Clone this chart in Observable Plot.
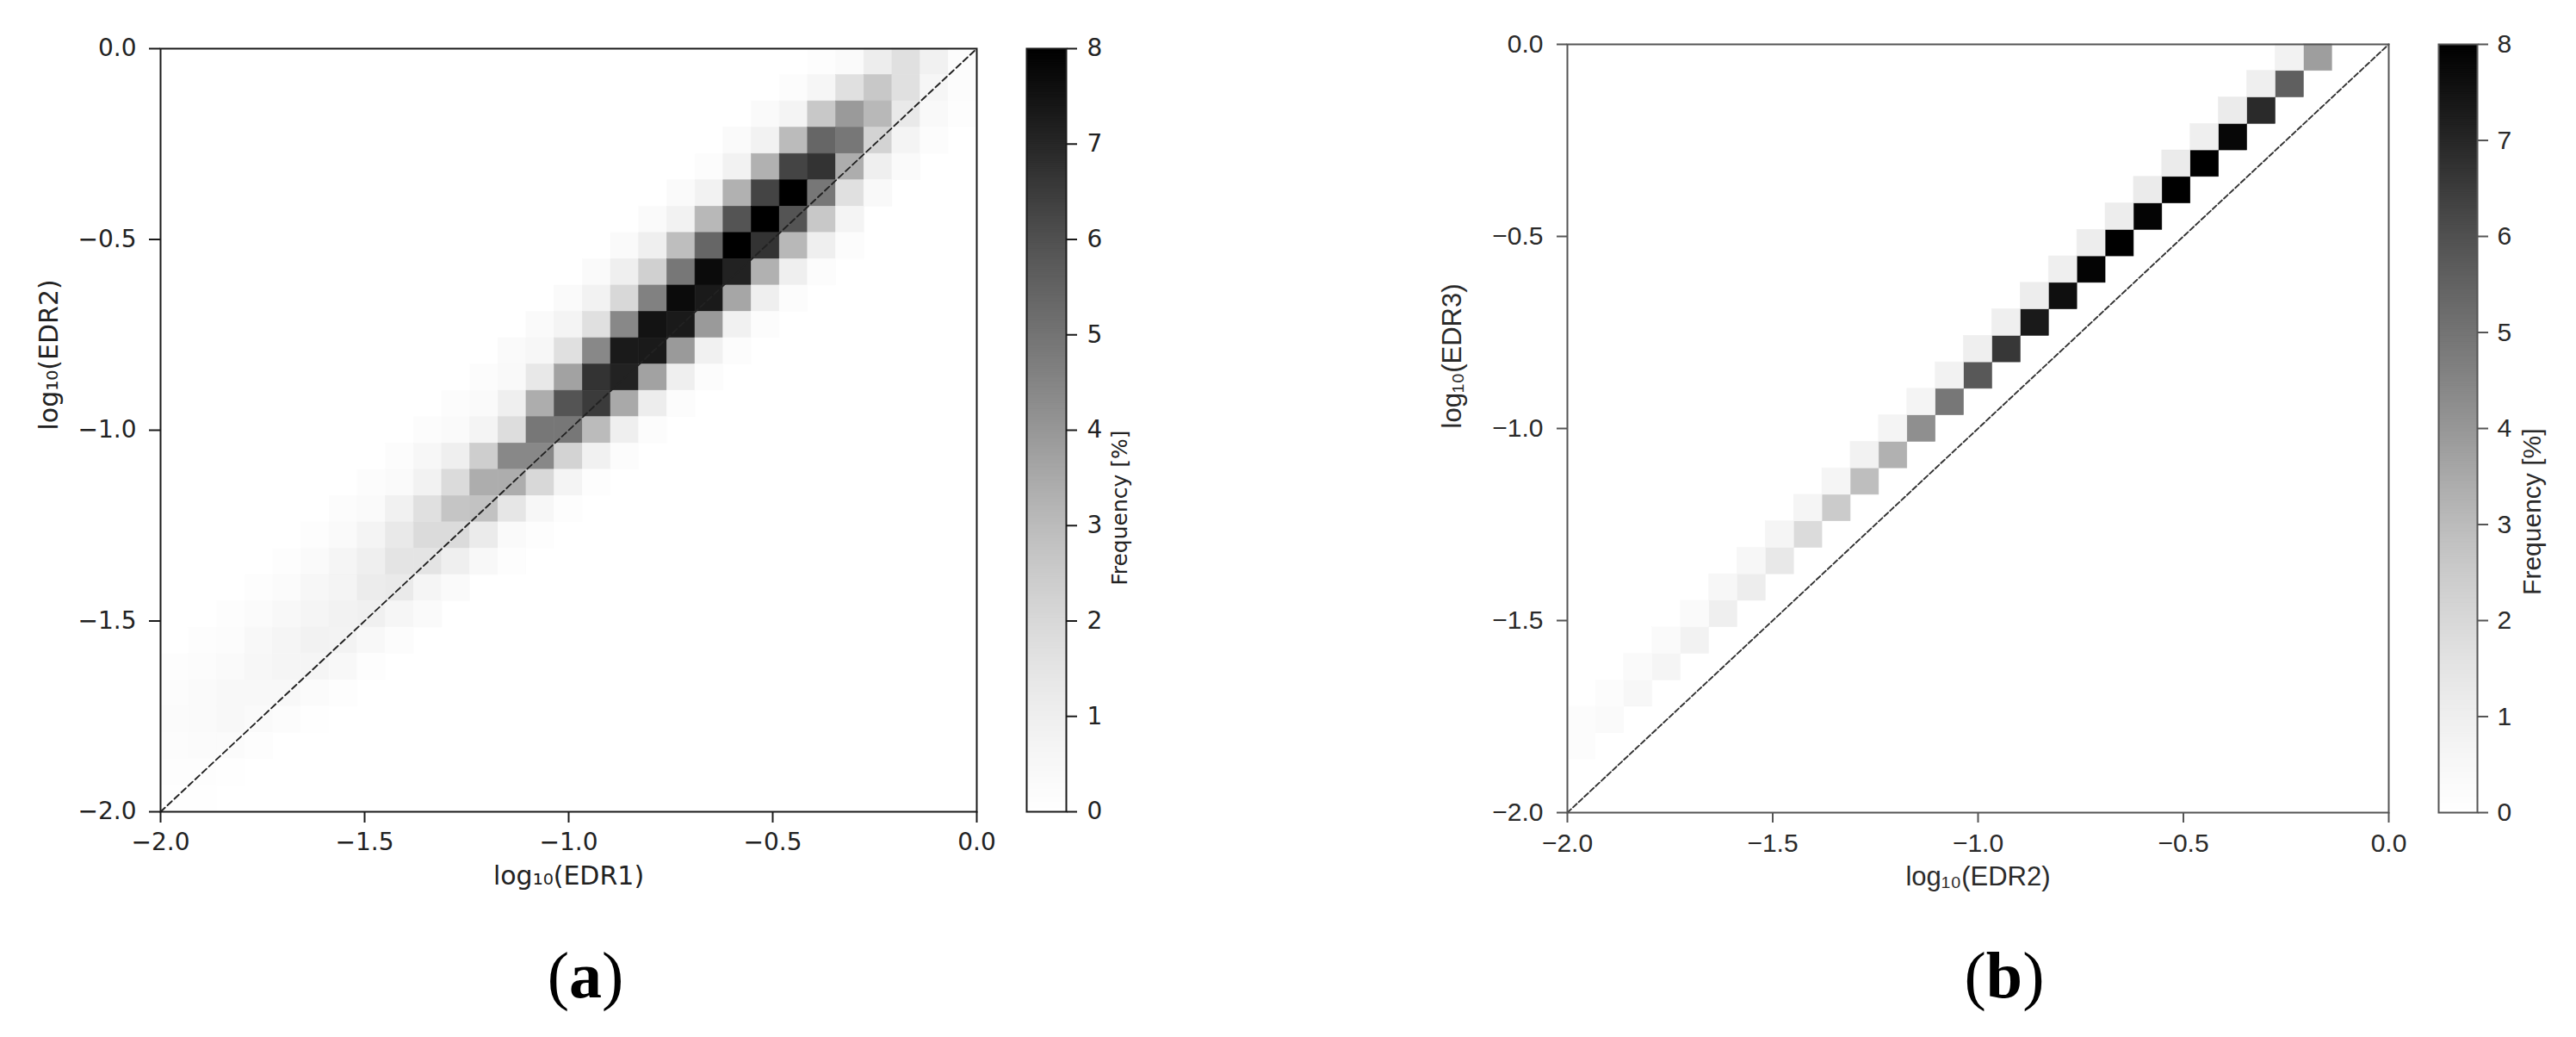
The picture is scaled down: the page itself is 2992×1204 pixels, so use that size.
<!DOCTYPE html>
<html>
<head>
<meta charset="utf-8">
<script src="https://cdn.jsdelivr.net/npm/d3@7"></script>
<script src="https://cdn.jsdelivr.net/npm/@observablehq/plot@0.6"></script>
<style>
  html, body { margin: 0; padding: 0; background: #fff; }
  #fig { position: relative; width: 2992px; height: 1204px; overflow: hidden; background: #fff; }
  .cap { position: absolute; font-family: "Liberation Serif", "Times New Roman", serif; font-size: 76px;
         font-weight: normal; line-height: 1; color: #000; transform: translateX(-50%); white-space: nowrap; }
  .cap b { font-weight: bold; }
</style>
</head>
<body>
<div id="fig"></div>
<script>
// ---------------- data ----------------
const axisDomain = [-2, 0];          // log10(EDR) range of both axes
const nBins = 29;                    // histogram bins per axis
const axisTicks = [-2, -1.5, -1, -0.5, 0];
const cbarDomain = [0, 8];           // Frequency [%]
const cbarTicks = [0, 1, 2, 3, 4, 5, 6, 7, 8];
const panelTags = ["a", "b"];
const xLabels = ["log₁₀(EDR1)", "log₁₀(EDR2)"];
const yLabels = ["log₁₀(EDR2)", "log₁₀(EDR3)"];
const cbarLabel = "Frequency [%]";

// Panel (a): rows of the 2-D histogram  [yBin, first xBin, frequencies...]
const histA = [
  [28, 23, [0.1, 0.3, 1.1, 1.7, 0.9, 0.2]],
  [27, 22, [0.2, 0.6, 1.7, 2.6, 1.7, 0.6, 0.2]],
  [26, 21, [0.3, 0.7, 2.6, 3.9, 3.1, 1.3, 0.4, 0.1]],
  [25, 20, [0.3, 0.8, 3.0, 5.4, 4.9, 2.2, 0.7, 0.2]],
  [24, 19, [0.2, 0.8, 3.3, 6.3, 6.7, 3.4, 1.0, 0.3]],
  [23, 18, [0.3, 0.8, 3.3, 6.3, 8.0, 4.9, 1.7, 0.4]],
  [22, 17, [0.3, 0.8, 3.1, 5.9, 8.0, 5.9, 2.6, 0.7]],
  [21, 16, [0.3, 1.0, 2.9, 5.4, 8.0, 6.7, 3.1, 1.0, 0.2]],
  [20, 15, [0.3, 1.0, 2.3, 4.9, 7.7, 7.1, 3.3, 1.0, 0.2]],
  [19, 14, [0.3, 0.8, 2.0, 4.6, 7.7, 7.3, 3.6, 1.0, 0.2]],
  [18, 13, [0.3, 0.7, 1.7, 4.4, 7.5, 7.3, 3.9, 0.9, 0.2]],
  [17, 12, [0.3, 0.5, 1.7, 4.4, 7.3, 7.3, 3.9, 0.9, 0.2]],
  [16, 11, [0.2, 0.4, 1.35, 3.7, 6.7, 7.1, 3.7, 1.0, 0.2]],
  [15, 10, [0.2, 0.35, 1.0, 3.4, 5.9, 6.5, 3.5, 1.1, 0.2]],
  [14, 9,  [0.2, 0.35, 0.7, 1.8, 4.9, 4.9, 3.0, 1.0, 0.2]],
  [13, 8,  [0.2, 0.5, 1.0, 2.4, 4.4, 4.4, 2.2, 0.9, 0.2]],
  [12, 7,  [0.2, 0.35, 0.8, 1.9, 3.4, 3.4, 2.0, 0.7, 0.15]],
  [11, 6,  [0.2, 0.35, 0.9, 1.7, 2.7, 2.8, 1.4, 0.5, 0.1]],
  [10, 5,  [0.15, 0.35, 0.7, 1.3, 1.9, 1.9, 1.2, 0.35, 0.1]],
  [9, 4,   [0.15, 0.3, 0.65, 1.0, 1.5, 1.5, 1.0, 0.45, 0.1]],
  [8, 3,   [0.15, 0.25, 0.5, 0.7, 1.15, 1.25, 0.65, 0.3]],
  [7, 2,   [0.15, 0.25, 0.45, 0.65, 0.8, 0.95, 0.6, 0.3]],
  [6, 1,   [0.1, 0.2, 0.45, 0.65, 0.8, 0.75, 0.45, 0.2]],
  [5, 0,   [0.1, 0.2, 0.35, 0.5, 0.65, 0.65, 0.45, 0.15]],
  [4, 0,   [0.2, 0.35, 0.45, 0.45, 0.45, 0.25, 0.1]],
  [3, 0,   [0.25, 0.35, 0.45, 0.3, 0.2, 0.05]],
  [2, 0,   [0.2, 0.25, 0.25, 0.1]],
  [1, 0,   [0.12, 0.12, 0.05]],
  [0, 0,   [0.07, 0.05]]
];

// Panel (b): frequency of the cell two bins above the diagonal (xBin k, yBin k+2)
const nearB = [0.2, 0.35, 0.5, 0.65, 0.8, 1.0, 1.1, 1.35, 1.9, 2.5, 2.9, 3.3, 4.2, 4.9,
               5.8, 6.6, 7.3, 7.6, 7.9, 8.0, 7.9, 8.0, 8.0, 7.8, 6.9, 5.6, 3.8];
// ... and three bins above the diagonal (xBin k, yBin k+3)
const farB = [0.2, 0.2, 0.33, 0.33, 0.35, 0.5, 0.5, 0.65, 0.65, 0.65, 0.8, 0.7, 0.7,
              0.8, 1.0, 1.0, 1.1, 1.0, 1.1, 1.1, 1.2, 1.2, 1.0, 1.2, 1.0, 0.8];

// ---------------- derived tables ----------------
const binEdges = d3.range(nBins + 1).map(i => axisDomain[0] + (axisDomain[1] - axisDomain[0]) * i / nBins);
const cellsA = histA.flatMap(([j, k0, vals]) => vals.map((v, i) => ({k: k0 + i, j, v})));
const cellsB = [
  ...nearB.map((v, k) => ({k, j: k + 2, v})),
  ...farB.map((v, k) => ({k, j: k + 3, v}))
];
const diagonal = axisDomain.map(v => ({x: v, y: v}));
const rampStep = 0.02;
const ramp = d3.range(cbarDomain[0], cbarDomain[1], rampStep);
const fmt1 = d3.format(".1f");

// ---------------- builders ----------------
function heatPanel(o) {
  return Plot.plot({
    width: o.width, height: o.height,
    marginLeft: o.ml, marginRight: o.mr, marginTop: o.mt, marginBottom: o.mb,
    style: {fontFamily: o.font, fontSize: o.fs + "px", color: o.ink, background: "transparent", overflow: "visible"},
    x: {domain: axisDomain},
    y: {domain: axisDomain},
    color: {type: "linear", scheme: "Greys", domain: cbarDomain},
    marks: [
      Plot.rect(o.cells, {
        x1: d => binEdges[d.k], x2: d => binEdges[d.k + 1],
        y1: d => binEdges[d.j], y2: d => binEdges[d.j + 1],
        fill: "v", stroke: "v", strokeWidth: 0.6
      }),
      Plot.line(diagonal, {x: "x", y: "y", stroke: o.dashColor, strokeWidth: 1.9, strokeDasharray: o.dash}),
      Plot.frame({stroke: o.frameColor, strokeWidth: 2}),
      Plot.axisX({ticks: axisTicks, tickFormat: fmt1, tickSize: o.ts, tickPadding: o.tpx, label: null,
                  stroke: o.frameColor, strokeWidth: 2, fill: o.ink}),
      Plot.axisY({ticks: axisTicks, tickFormat: fmt1, tickSize: o.ts, tickPadding: o.tpy, label: null,
                  stroke: o.frameColor, strokeWidth: 2, fill: o.ink}),
      Plot.text([o.xLabel], {text: d => d, frameAnchor: "bottom", dy: o.xLabelDy, fontSize: o.lfs, fill: o.ink}),
      Plot.text([o.yLabel], {text: d => d, frameAnchor: "left", dx: o.yLabelDx, rotate: -90, fontSize: o.lfs, fill: o.ink})
    ]
  });
}

function colorBar(o) {
  return Plot.plot({
    width: o.width, height: o.height,
    marginLeft: o.ml, marginRight: o.mr, marginTop: o.mt, marginBottom: o.mb,
    style: {fontFamily: o.font, fontSize: o.fs + "px", color: o.ink, background: "transparent", overflow: "visible"},
    x: {domain: [0, 1], axis: null},
    y: {domain: cbarDomain},
    color: {type: "linear", scheme: "Greys", domain: cbarDomain},
    marks: [
      Plot.rect(ramp, {x1: d => 0, x2: d => 1, y1: d => d,
                       y2: d => Math.min(d + rampStep * 1.6, cbarDomain[1]), fill: d => d + rampStep / 2}),
      Plot.frame({stroke: o.frameColor, strokeWidth: 2}),
      Plot.axisY({anchor: "right", ticks: cbarTicks, tickFormat: d3.format("d"), tickSize: o.ts, tickPadding: o.tp,
                  label: null, stroke: o.frameColor, strokeWidth: 2, fill: o.ink}),
      Plot.text([cbarLabel], {text: d => d, frameAnchor: "right", dx: o.labelDx, rotate: -90, fontSize: o.lfs, fill: o.ink})
    ]
  });
}

// ---------------- layout ----------------
const fig = document.getElementById("fig");
function place(el, left, top) {
  el.style.position = "absolute";
  el.style.left = left + "px";
  el.style.top = top + "px";
  el.style.maxWidth = "none";
  fig.appendChild(el);
}

const styleA = {font: "'DejaVu Sans', sans-serif", fs: 28, lfs: 30, ink: "#222", frameColor: "#1a1a1a"};
const styleB = {font: "'Liberation Sans', Arial, sans-serif", fs: 30, lfs: 31, ink: "#2a2a2a", frameColor: "#555"};

place(heatPanel({...styleA, cells: cellsA, xLabel: xLabels[0], yLabel: yLabels[0],
  width: 1160, height: 1080, ml: 186, mr: 26, mt: 56, mb: 138,
  ts: 13, tpx: 12, tpy: 15, xLabelDy: 84, yLabelDx: -129,
  dashColor: "#222", dash: "7,4"}), 0, 0);

place(colorBar({...styleA, lfs: 25, width: 200, height: 1080, ml: 22, mr: 132, mt: 56, mb: 138,
  ts: 12, tp: 12, labelDx: 62}), 1170, 0);

place(heatPanel({...styleB, cells: cellsB, xLabel: xLabels[1], yLabel: yLabels[1],
  width: 1140, height: 1080, ml: 160, mr: 26, mt: 51, mb: 137,
  ts: 12, tpx: 12, tpy: 16, xLabelDy: 84, yLabelDx: -133,
  dashColor: "#333", dash: "6,3"}), 1660, 0);

place(colorBar({...styleB, lfs: 30, width: 182, height: 1080, ml: 22, mr: 115, mt: 51, mb: 137,
  ts: 12, tp: 11, labelDx: 64}), 2810, 0);

// panel captions
[[panelTags[0], 680], [panelTags[1], 2328]].forEach(([tag, cx]) => {
  const cap = document.createElement("div");
  cap.className = "cap";
  cap.innerHTML = "(<b>" + tag + "</b>)";
  cap.style.left = cx + "px";
  cap.style.top = "1094px";
  fig.appendChild(cap);
});
</script>
</body>
</html>
